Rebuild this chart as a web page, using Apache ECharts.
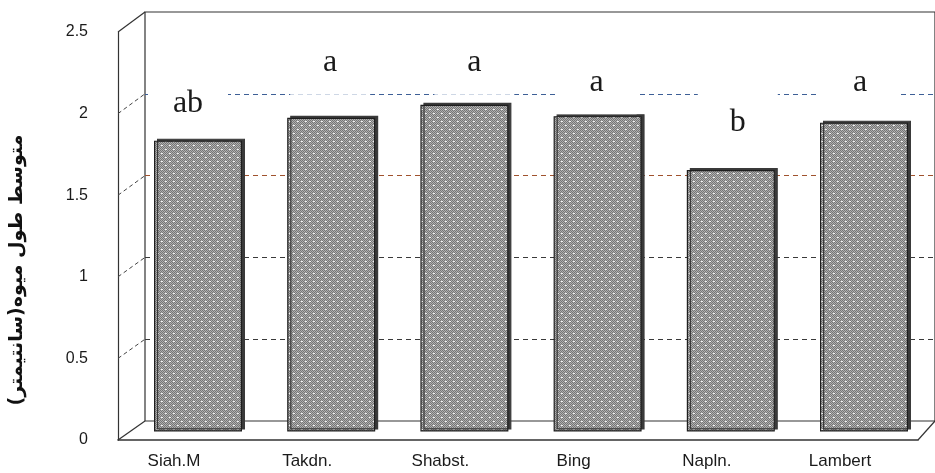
<!DOCTYPE html>
<html>
<head>
<meta charset="utf-8">
<script src="https://cdn.jsdelivr.net/npm/echarts@6/dist/echarts.min.js"></script>
<style>
  html, body { margin: 0; padding: 0; background: #fff; }
  #chart { width: 935px; height: 473px; }
</style>
</head>
<body>
<div id="chart"></div>
<script>
// Mean fruit length per cherry cultivar, with Duncan group letters
const cultivars = ['Siah.M', 'Takdn.', 'Shabst.', 'Bing', 'Napln.', 'Lambert'];
const fruitLength = [1.78, 1.92, 2.00, 1.93, 1.60, 1.89];
const groupLetters = ['ab', 'a', 'a', 'a', 'b', 'a'];
const yMin = 0, yMax = 2.5, yStep = 0.5;
const yTitle = 'متوسط طول میوه(سانتیمتر)';

// Hand-placed nudges for the group letters (pixels)
const letterShift = [[-10, 0], [-1, -18], [10, -5], [-1, 3], [7, -10], [-4, -3]];

// Stippled grey fill for the bars
function stipple() {
  const c = document.createElement('canvas');
  c.width = 8; c.height = 8;
  const g = c.getContext('2d');
  for (let y = 0; y < 8; y++) {
    for (let x = 0; x < 8; x++) {
      g.fillStyle = (x + y) % 2 === 0 ? '#767676' : '#b0b0b0';
      g.fillRect(x, y, 1, 1);
    }
  }
  g.fillStyle = '#f2f2f2';
  g.fillRect(1, 1, 1, 1); g.fillRect(2, 1, 1, 1);
  g.fillRect(5, 5, 1, 1); g.fillRect(6, 5, 1, 1);
  return c;
}

const chart = echarts.init(document.getElementById('chart'), null, { renderer: 'canvas' });
const frame = '#333';
const sans = 'Liberation Sans, Arial, sans-serif';

// grid 0: bars (mid depth); 1: back wall; 2: front axis; 3: category labels; 4: axis title
const grids = [
  { left: 131.4, right: 4.4, top: 23, bottom: 41.5 },
  { left: 145, right: -10, top: 12, bottom: 52, show: true, borderColor: frame, borderWidth: 1.2, backgroundColor: 'transparent' },
  { left: 118, right: 17, top: 32, bottom: 33 },
  { left: 107.4, right: 28.4, top: 32, bottom: 33 },
  { left: 118, right: 17, top: 140, bottom: 73 }
];

const option = {
  animation: false,
  backgroundColor: '#fff',
  grid: grids,
  xAxis: [
    { gridIndex: 0, type: 'category', data: cultivars, show: false },
    { gridIndex: 1, type: 'value', min: 0, max: 1, show: false },
    { gridIndex: 2, type: 'value', min: 0, max: 1,
      axisLine: { show: true, lineStyle: { color: frame, width: 1.6 } },
      axisTick: { show: false }, axisLabel: { show: false }, splitLine: { show: false } },
    { gridIndex: 3, type: 'category', data: cultivars,
      axisLine: { show: false }, axisTick: { show: false },
      axisLabel: { margin: 13, fontFamily: sans, fontSize: 17, color: '#1a1a1a' } },
    { gridIndex: 4, type: 'value', show: false }
  ],
  yAxis: [
    { gridIndex: 0, type: 'value', min: yMin, max: yMax, show: false },
    { gridIndex: 1, type: 'value', min: yMin, max: yMax, interval: yStep,
      axisLine: { show: false }, axisTick: { show: false }, axisLabel: { show: false },
      splitLine: { show: true, lineStyle: { type: [5, 4], width: 1,
        color: ['transparent', '#3a3a3a', '#3a3a3a', '#a0522d', '#3d5f96', 'transparent'] } } },
    { gridIndex: 2, type: 'value', min: yMin, max: yMax, interval: yStep,
      axisLine: { show: true, lineStyle: { color: frame, width: 1.2 } },
      axisTick: { show: false }, splitLine: { show: false },
      axisLabel: { margin: 30, fontFamily: sans, fontSize: 16, color: '#1a1a1a' } },
    { gridIndex: 3, type: 'value', min: yMin, max: yMax, show: false },
    { gridIndex: 4, type: 'value', min: 0, max: 1,
      axisLine: { show: false }, axisTick: { show: false }, axisLabel: { show: false }, splitLine: { show: false },
      name: yTitle, nameLocation: 'middle', nameRotate: 90, nameGap: 96,
      nameTextStyle: { fontFamily: 'DejaVu Sans, sans-serif', fontWeight: 'bold', fontSize: 19, color: '#111' } }
  ],
  series: [{
    type: 'bar',
    xAxisIndex: 0, yAxisIndex: 0,
    barWidth: 88,
    data: fruitLength.map((v, i) => ({
      value: v,
      label: { offset: letterShift[i] }
    })),
    itemStyle: {
      color: { image: stipple(), repeat: 'repeat' },
      borderColor: '#1e1e1e', borderWidth: 1.2,
      shadowColor: '#3a3a3a', shadowBlur: 0, shadowOffsetX: 3, shadowOffsetY: -2
    },
    label: {
      show: true, position: 'top', distance: 5,
      formatter: p => groupLetters[p.dataIndex],
      fontFamily: 'Liberation Serif, Times New Roman, serif',
      fontSize: 32, lineHeight: 32, color: '#1a1a1a',
      backgroundColor: '#fff', width: 80, align: 'center',
      padding: [16, 0]
    }
  }]
};

chart.setOption(option);

// Oblique edges joining the front axis to the back wall
const edges = [];
const ticks = [];
for (let v = yMin; v <= yMax + 1e-9; v += yStep) ticks.push(+v.toFixed(2));
ticks.forEach(v => {
  const f = chart.convertToPixel({ gridIndex: 2 }, [0, v]);
  const b = chart.convertToPixel({ gridIndex: 1 }, [0, v]);
  const solid = (v === yMin || v === yMax);
  edges.push({
    type: 'line', z: solid ? 5 : 1, silent: true,
    shape: { x1: f[0], y1: f[1], x2: b[0], y2: b[1] },
    style: { stroke: solid ? frame : '#444', lineWidth: solid ? 1.2 : 1, lineDash: solid ? null : [4, 3] }
  });
});
// right end of the floor
const fr = chart.convertToPixel({ gridIndex: 2 }, [1, 0]);
const br = chart.convertToPixel({ gridIndex: 1 }, [1, 0]);
edges.push({
  type: 'line', z: 5, silent: true,
  shape: { x1: fr[0], y1: fr[1], x2: br[0], y2: br[1] },
  style: { stroke: frame, lineWidth: 1.2 }
});
chart.setOption({ graphic: edges });
</script>
</body>
</html>
